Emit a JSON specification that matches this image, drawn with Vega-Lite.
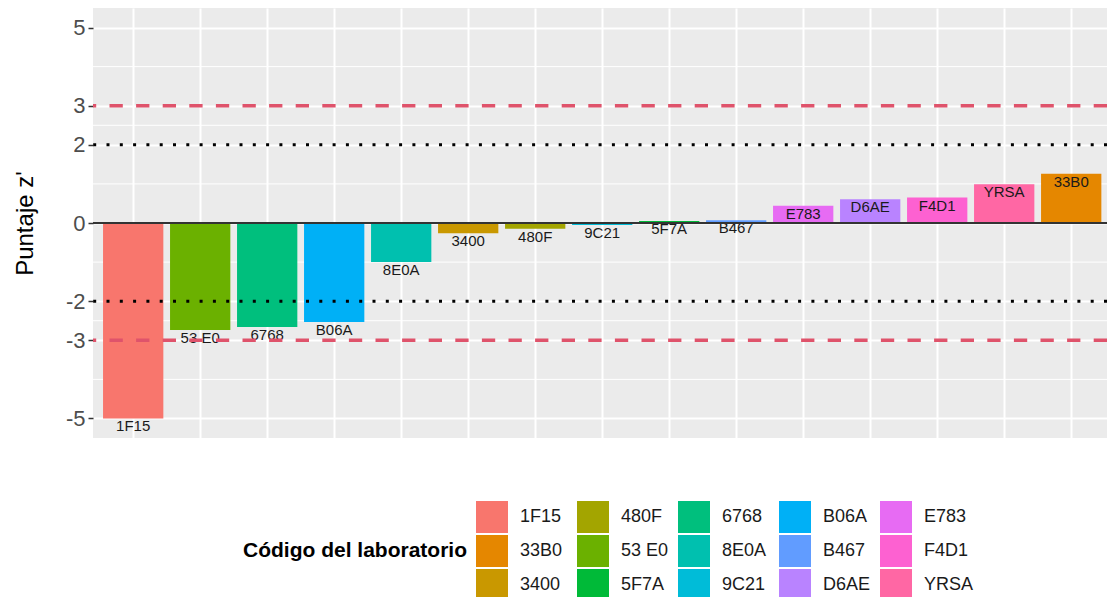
{
  "$schema": "https://vega.github.io/schema/vega-lite/v6.json",
  "width": 1014,
  "height": 430,
  "autosize": "none",
  "padding": {"left": 93, "top": 8, "right": 0, "bottom": 159},
  "config": {
    "view": {"fill": "#EBEBEB", "stroke": null},
    "font": "Liberation Sans"
  },
  "datasets": {
    "labs": [
      {"lab": "1F15", "y": -5.0},
      {"lab": "53 E0", "y": -2.74},
      {"lab": "6768", "y": -2.66},
      {"lab": "B06A", "y": -2.53},
      {"lab": "8E0A", "y": -1.0},
      {"lab": "3400", "y": -0.26},
      {"lab": "480F", "y": -0.15},
      {"lab": "9C21", "y": -0.05},
      {"lab": "5F7A", "y": 0.05},
      {"lab": "B467", "y": 0.07},
      {"lab": "E783", "y": 0.44},
      {"lab": "D6AE", "y": 0.61},
      {"lab": "F4D1", "y": 0.65},
      {"lab": "YRSA", "y": 0.99},
      {"lab": "33B0", "y": 1.26}
    ]
  },
  "encoding": {
    "y": {
      "field": "y",
      "type": "quantitative",
      "scale": {"domain": [-5.5, 5.5], "nice": false},
      "axis": {
        "values": [-5, -3, -2, 0, 2, 3, 5],
        "labelExpr": "'' + datum.value",
        "title": "Puntaje z'",
        "titleFontSize": 24,
        "titleFontWeight": "normal",
        "titleColor": "black",
        "titlePadding": 28,
        "labelFontSize": 22,
        "labelColor": "#4D4D4D",
        "labelPadding": 3,
        "tickColor": "#333333",
        "tickSize": 5,
        "tickWidth": 1.5,
        "domain": false,
        "grid": true,
        "gridColor": "white",
        "gridWidth": 2
      }
    }
  },
  "layer": [
    {
      "data": {"values": [{"y": -4}, {"y": -2.5}, {"y": -1}, {"y": 1}, {"y": 2.5}, {"y": 4}]},
      "mark": {"type": "rule", "color": "white", "strokeWidth": 1},
      "encoding": {}
    },
    {
      "data": {"name": "labs"},
      "mark": {"type": "bar"},
      "encoding": {
        "x": {
          "field": "lab",
          "type": "nominal",
          "sort": ["1F15", "53 E0", "6768", "B06A", "8E0A", "3400", "480F", "9C21", "5F7A", "B467", "E783", "D6AE", "F4D1", "YRSA", "33B0"],
          "scale": {"paddingInner": 0.1, "paddingOuter": 0.117, "align": 0.64},
          "axis": {
            "labels": false,
            "ticks": false,
            "domain": false,
            "title": null,
            "grid": true,
            "gridColor": "white",
            "gridWidth": 2,
            "bandPosition": 0.5
          }
        },
        "color": {
          "field": "lab",
          "type": "nominal",
          "scale": {
            "domain": ["1F15", "480F", "6768", "B06A", "E783", "33B0", "53 E0", "8E0A", "B467", "F4D1", "3400", "5F7A", "9C21", "D6AE", "YRSA"],
            "range": ["#F8766D", "#A3A500", "#00BF7D", "#00B0F6", "#E76BF3", "#E58700", "#6BB100", "#00C0AF", "#619CFF", "#FD61D1", "#C99800", "#00BA38", "#00BCD8", "#B983FF", "#FF67A4"]
          },
          "legend": {
            "title": "Código del laboratorio",
            "orient": "none",
            "legendX": 150,
            "legendY": 493,
            "columns": 5,
            "direction": "horizontal",
            "titleOrient": "left",
            "titleAnchor": "middle",
            "titleBaseline": "middle",
            "titleFontSize": 21,
            "titleFontWeight": "bold",
            "titleColor": "black",
            "titleLimit": 500,
            "titlePadding": 9,
            "labelFontSize": 18,
            "labelColor": "#1a1a1a",
            "labelOffset": 12,
            "symbolType": "square",
            "symbolSize": 1024,
            "symbolStrokeWidth": 0,
            "symbolOpacity": 1,
            "columnPadding": 7,
            "rowPadding": 2,
            "gridAlign": "all",
            "padding": 0
          }
        }
      }
    },
    {
      "data": {"name": "labs"},
      "mark": {"type": "text", "baseline": "top", "dy": 1, "fontSize": 15, "color": "#1a1a1a"},
      "encoding": {
        "x": {
          "field": "lab",
          "type": "nominal",
          "sort": ["1F15", "53 E0", "6768", "B06A", "8E0A", "3400", "480F", "9C21", "5F7A", "B467", "E783", "D6AE", "F4D1", "YRSA", "33B0"]
        },
        "text": {"field": "lab"}
      }
    },
    {
      "data": {"values": [{"y": 0}]},
      "mark": {"type": "rule", "color": "#333333", "strokeWidth": 1.8},
      "encoding": {}
    },
    {
      "data": {"values": [{"y": 2}, {"y": -2}]},
      "mark": {"type": "rule", "color": "black", "strokeWidth": 3, "strokeDash": [3, 10.3]},
      "encoding": {}
    },
    {
      "data": {"values": [{"y": 3}, {"y": -3}]},
      "mark": {"type": "rule", "color": "#DF536B", "strokeWidth": 3.3, "strokeDash": [13.3, 13.3]},
      "encoding": {}
    }
  ]
}
